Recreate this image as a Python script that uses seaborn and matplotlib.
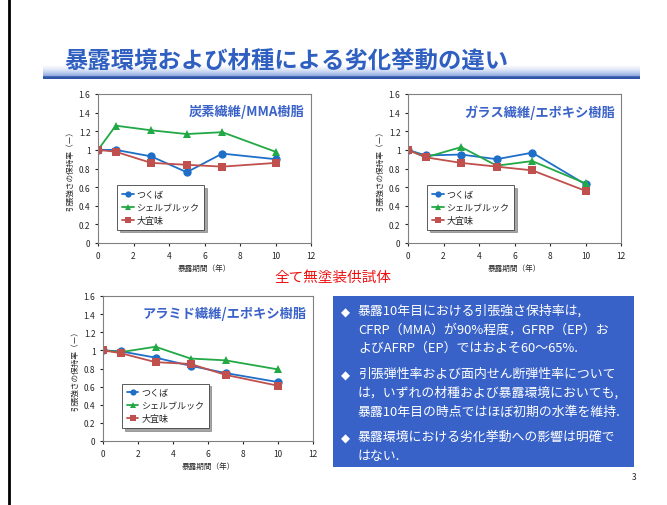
import numpy as np
import pandas as pd
import matplotlib
matplotlib.use('Agg')
import matplotlib.pyplot as plt
import seaborn as sns

years = [0, 1, 3, 5, 7, 10]
sites = ['つくば', 'シェルブルック', '大宜味']

cfrp_tsukuba = [1.0, 1.0, 0.93, 0.76, 0.96, 0.90]
cfrp_sherbrooke = [1.0, 1.26, 1.21, 1.17, 1.19, 0.98]
cfrp_ogimi = [1.0, 0.98, 0.86, 0.84, 0.82, 0.86]

gfrp_tsukuba = [1.0, 0.94, 0.95, 0.90, 0.97, 0.63]
gfrp_sherbrooke = [1.0, 0.92, 1.03, 0.83, 0.88, 0.64]
gfrp_ogimi = [1.0, 0.92, 0.86, 0.82, 0.78, 0.56]

afrp_tsukuba = [1.0, 0.99, 0.92, 0.83, 0.75, 0.65]
afrp_sherbrooke = [1.0, 0.98, 1.04, 0.91, 0.89, 0.79]
afrp_ogimi = [1.0, 0.97, 0.87, 0.85, 0.73, 0.61]

panel_titles = ['炭素繊維/MMA樹脂', 'ガラス繊維/エポキシ樹脂', 'アラミド繊維/エポキシ樹脂']

sns.set_style('white')
plt.rcParams['font.family'] = ['Noto Sans CJK JP', 'DejaVu Sans']

fig = plt.figure(figsize=(6.67, 5.06), dpi=100)

# left slide border
fig.add_artist(plt.Line2D([0.013, 0.013], [0, 1], color='black', lw=2))

# title bar gradient
bar = fig.add_axes([43 / 667, 1 - 80 / 506, 597 / 667, 14 / 506])
grad = np.linspace(0, 1, 100).reshape(-1, 1)
cmap = matplotlib.colors.LinearSegmentedColormap.from_list(
    'bar', [(0, '#ffffff'), (0.3, '#e3eaf8'), (0.6, '#b3c6ec'),
            (0.8, '#88a4de'), (0.82, '#2f55a8'), (1, '#2f55a8')])
bar.imshow(grad, aspect='auto', cmap=cmap, extent=[0, 1, 0, 1], vmin=0, vmax=1)
bar.axis('off')

fig.text(64 / 667, 1 - 61 / 506, '暴露環境および材種による劣化挙動の違い',
         fontsize=16.8, fontweight='bold', color='#2f5fc0', va='center')

palette = {'つくば': '#1f6fc8', 'シェルブルック': '#22a845', '大宜味': '#c0504d'}
markers = {'つくば': 'o', 'シェルブルック': '^', '大宜味': 's'}

def make_df(a, b, c):
    rows = []
    for site, vals in zip(sites, [a, b, c]):
        for x, v in zip(years, vals):
            rows.append({'year': x, 'value': v, 'site': site})
    return pd.DataFrame(rows)

datasets = [
    make_df(cfrp_tsukuba, cfrp_sherbrooke, cfrp_ogimi),
    make_df(gfrp_tsukuba, gfrp_sherbrooke, gfrp_ogimi),
    make_df(afrp_tsukuba, afrp_sherbrooke, afrp_ogimi),
]

positions = [
    [98 / 667, 1 - 244 / 506, 213 / 667, 149 / 506],
    [408 / 667, 1 - 244 / 506, 213 / 667, 149 / 506],
    [103 / 667, 1 - 442 / 506, 210 / 667, 145 / 506],
]

for df, pos, title in zip(datasets, positions, panel_titles):
    ax = fig.add_axes(pos)
    sns.lineplot(data=df, x='year', y='value', hue='site', style='site',
                 palette=palette, markers=markers, dashes=False,
                 markersize=6, lw=1.3, markeredgewidth=0, ax=ax)
    ax.set_xlim(0, 12)
    ax.set_ylim(0, 1.6)
    ax.set_xticks(range(0, 13, 2))
    ax.set_yticks(np.arange(0, 1.61, 0.2))
    ax.set_yticklabels(['0', '0.2', '0.4', '0.6', '0.8', '1', '1.2', '1.4', '1.6'])
    ax.tick_params(labelsize=6, length=2, direction='out', left=True, bottom=True)
    for s in ax.spines.values():
        s.set_color('#808080')
        s.set_linewidth(0.8)
    ax.set_xlabel('暴露期間（年）', fontsize=5.5, labelpad=3)
    ax.set_ylabel('引張強さの保持率（ー）', fontsize=5.5, labelpad=3)
    ax.text(0.97, 0.93, title, transform=ax.transAxes, ha='right', va='top',
            fontsize=9.5, fontweight='bold', color='#3a62c8')
    leg = ax.legend(title=None, loc='lower left', bbox_to_anchor=(0.07, 0.06),
                    fontsize=6.5, frameon=True, fancybox=False, shadow=True,
                    edgecolor='#404040', handlelength=1.3, handletextpad=0.3,
                    borderpad=0.5, labelspacing=0.45)
    leg.get_frame().set_linewidth(0.6)
    for h in leg.legend_handles:
        h.set_markersize(4.5)

fig.text(333 / 667, 1 - 278 / 506, '全て無塗装供試体', fontsize=10.5,
         color='#ee1111', ha='center', va='center')

# summary box
box = fig.add_axes([333 / 667, 1 - 468 / 506, 301 / 667, 171 / 506])
box.set_facecolor('#3862c8')
box.set_xticks([])
box.set_yticks([])
for s in box.spines.values():
    s.set_visible(False)

bullets = [
    (0.955, ['暴露10年目における引張強さ保持率は,',
             'CFRP（MMA）が90%程度，GFRP（EP）お',
             'よびAFRP（EP）ではおよそ60～65%.']),
    (0.585, ['引張弾性率および面内せん断弾性率について',
             'は，いずれの材種および暴露環境においても,',
             '暴露10年目の時点ではほぼ初期の水準を維持.']),
    (0.215, ['暴露環境における劣化挙動への影響は明確で',
             'はない.']),
]
for y0, lines in bullets:
    box.text(0.025, y0 - 0.01, '◆', transform=box.transAxes, color='white',
             fontsize=8.5, va='top', family=['DejaVu Sans'])
    box.text(0.083, y0, '\n'.join(lines), transform=box.transAxes,
             color='white', fontsize=9.3, va='top', linespacing=1.55)

fig.text(636 / 667, 1 - 478 / 506, '3', fontsize=6, ha='right', va='center')

fig.savefig('out.png', dpi=100)
